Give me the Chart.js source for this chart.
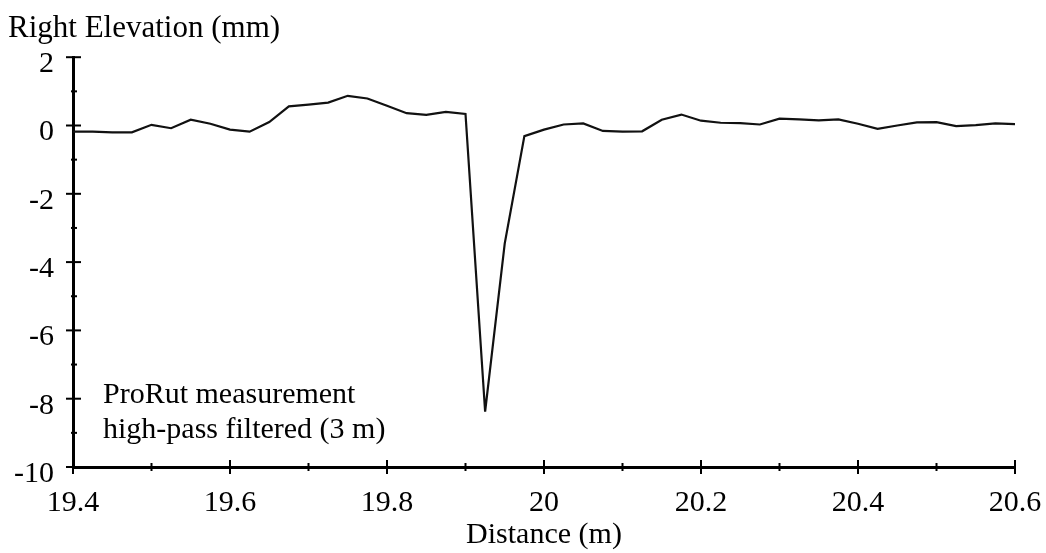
<!DOCTYPE html>
<html>
<head>
<meta charset="utf-8">
<script src="https://cdn.jsdelivr.net/npm/chart.js@4.4.1/dist/chart.umd.min.js"></script>
<style>
  html, body { margin: 0; padding: 0; background: #fff; }
  #wrap { width: 1046px; height: 553px; }
</style>
</head>
<body>
<div id="wrap"><canvas id="profileChart"></canvas></div>
<script>
// ProRut right wheel-path profile, high-pass filtered (3 m)
const distance = [
    19.4, 19.425, 19.45, 19.475, 19.5, 19.525, 19.55, 19.575, 19.6, 19.625,
    19.65, 19.675, 19.7, 19.725, 19.75, 19.775, 19.8, 19.825, 19.85, 19.875,
    19.9, 19.925, 19.95, 19.975, 20.0, 20.025, 20.05, 20.075, 20.1, 20.125,
    20.15, 20.175, 20.2, 20.225, 20.25, 20.275, 20.3, 20.325, 20.35, 20.375,
    20.4, 20.425, 20.45, 20.475, 20.5, 20.525, 20.55, 20.575, 20.6
];
const elevation = [
    -0.18, -0.18, -0.2, -0.2, 0.02, -0.08, 0.17, 0.05, -0.12, -0.18,
    0.1, 0.56, 0.61, 0.67, 0.87, 0.79, 0.58, 0.36, 0.31, 0.4,
    0.34, -8.38, -3.45, -0.31, -0.12, 0.03, 0.06, -0.16, -0.18, -0.17,
    0.17, 0.32, 0.14, 0.08, 0.07, 0.03, 0.2, 0.18, 0.15, 0.18,
    0.05, -0.1, 0.0, 0.09, 0.1, -0.02, 0.01, 0.06, 0.04
];
const xTicks = [19.4, 19.6, 19.8, 20, 20.2, 20.4, 20.6];
const yTicks = [2, 0, -2, -4, -6, -8, -10];
const noteLines = ['ProRut measurement', 'high-pass filtered (3 m)'];

const serif = 'Liberation Serif';

// tick marks crossing the axes (major at labels, minor halfway) plus the note text
const axisMarks = {
    id: 'axisMarks',
    afterDraw(chart) {
        const { ctx, chartArea, scales: { x, y } } = chart;
        ctx.save();
        ctx.strokeStyle = '#000';
        ctx.lineWidth = 2;
        const yb = chartArea.bottom;
        const xl = chartArea.left;

        xTicks.forEach((v, i) => {
            const px = x.getPixelForValue(v);
            ctx.beginPath();
            ctx.moveTo(px, yb - 7);
            ctx.lineTo(px, yb + 7);
            ctx.stroke();
            if (i < xTicks.length - 1) {
                const mx = x.getPixelForValue((v + xTicks[i + 1]) / 2);
                ctx.beginPath();
                ctx.moveTo(mx, yb - 4);
                ctx.lineTo(mx, yb + 4);
                ctx.stroke();
            }
        });

        yTicks.forEach((v, i) => {
            const py = y.getPixelForValue(v);
            ctx.beginPath();
            ctx.moveTo(xl - 7, py);
            ctx.lineTo(xl + 8, py);
            ctx.stroke();
            if (i < yTicks.length - 1) {
                const my = y.getPixelForValue((v + yTicks[i + 1]) / 2);
                ctx.beginPath();
                ctx.moveTo(xl - 2, my);
                ctx.lineTo(xl + 4, my);
                ctx.stroke();
            }
        });

        ctx.fillStyle = '#000';
        ctx.font = '30px "' + serif + '"';
        ctx.textAlign = 'left';
        ctx.textBaseline = 'alphabetic';
        noteLines.forEach((line, i) => {
            ctx.fillText(line, xl + 30, chartArea.top + 346 + i * 35);
        });
        ctx.restore();
    }
};

const ctx = document.getElementById('profileChart').getContext('2d');
new Chart(ctx, {
    type: 'line',
    data: {
        datasets: [{
            data: distance.map((d, i) => ({ x: d, y: elevation[i] })),
            borderColor: '#111',
            borderWidth: 2.2,
            pointRadius: 0,
            tension: 0,
            fill: false
        }]
    },
    options: {
        responsive: true,
        maintainAspectRatio: false,
        animation: false,
        layout: { padding: { left: 8, right: 31, top: 0, bottom: 0 } },
        plugins: {
            legend: { display: false },
            tooltip: { enabled: false },
            title: {
                display: true,
                text: 'Right Elevation (mm)',
                align: 'start',
                color: '#000',
                font: { family: serif, size: 31, weight: 'normal' },
                padding: { top: 10, bottom: 10 }
            }
        },
        scales: {
            x: {
                type: 'linear',
                min: 19.4,
                max: 20.6,
                afterBuildTicks(scale) {
                    scale.ticks = xTicks.map(v => ({ value: v }));
                },
                afterFit(scale) {
                    scale.height = 86;
                },
                // tick marks themselves come from axisMarks; tickLength only spaces the labels
                grid: { display: false, drawTicks: true, tickLength: 18 },
                border: { display: true, color: '#000', width: 3 },
                ticks: {
                    color: '#000',
                    font: { family: serif, size: 30 },
                    padding: 0,
                    maxRotation: 0,
                    autoSkip: false,
                    callback: v => String(v)
                },
                title: {
                    display: true,
                    text: 'Distance (m)',
                    color: '#000',
                    font: { family: serif, size: 30 },
                    padding: { top: 0, bottom: 0 }
                }
            },
            y: {
                min: -10,
                max: 2,
                afterBuildTicks(scale) {
                    scale.ticks = yTicks.map(v => ({ value: v }));
                },
                afterFit(scale) {
                    scale.width = 65;
                },
                grid: { display: false, drawTicks: false },
                border: { display: true, color: '#000', width: 3 },
                ticks: {
                    color: '#000',
                    font: { family: serif, size: 30 },
                    padding: 19,
                    labelOffset: 7,
                    autoSkip: false,
                    callback: v => String(v)
                }
            }
        }
    },
    plugins: [axisMarks]
});
</script>
</body>
</html>
